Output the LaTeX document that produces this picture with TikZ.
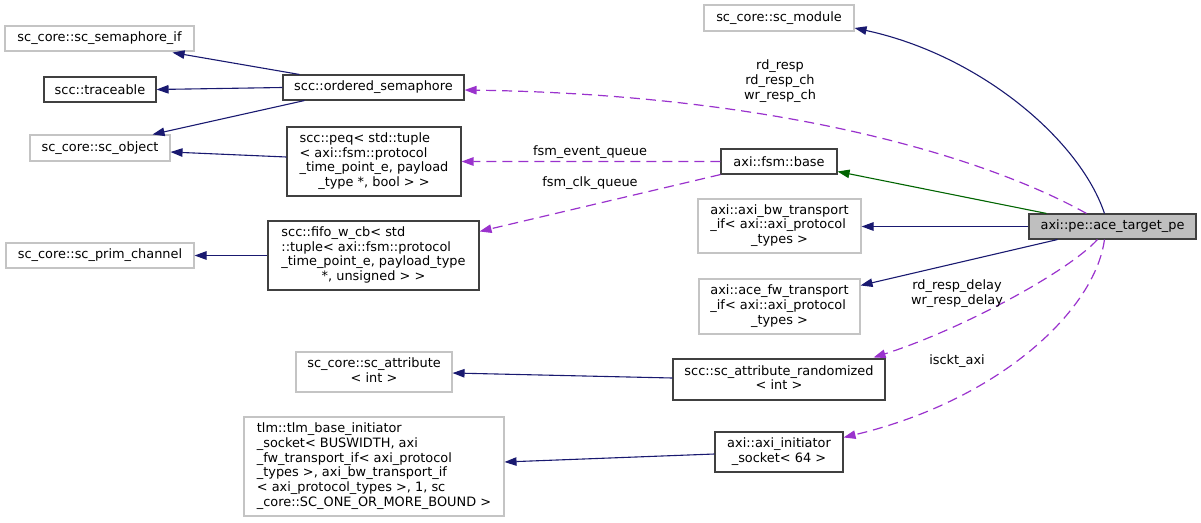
\documentclass[tikz,border=0pt]{standalone}
\usepackage{fontspec}
\setmainfont{DejaVu Sans}
\usetikzlibrary{arrows.meta,calc}
\definecolor{navy}{HTML}{191970}
\definecolor{purp}{HTML}{9A32CD}
\definecolor{dgreen}{HTML}{006400}
\definecolor{gborder}{HTML}{C4C4C4}
\definecolor{bborder}{HTML}{404040}
\definecolor{tfill}{HTML}{BFBFBF}
\newcommand{\dfont}{\fontsize{12.9}{14.9}\selectfont}
\newcommand{\ml}[2]{\begin{tabular}{@{}l@{}}#1\\\multicolumn{1}{@{}c@{}}{#2}\end{tabular}}
\begin{document}
\begin{tikzpicture}[x=1pt,y=-1pt,
  box/.style={line width=1.1pt, inner sep=0pt, font=\dfont, text=black},
  gbox/.style={box, draw=gborder},
  bbox/.style={box, draw=bborder},
  inh/.style={draw=navy, line width=1.1pt, -{Triangle[length=12pt,width=8.5pt,fill=navy]}},
  pub/.style={draw=dgreen, line width=1.1pt, -{Triangle[length=12pt,width=8.5pt,fill=dgreen]}},
  use/.style={draw=purp, color=purp, line width=1.2pt, dash pattern=on 10pt off 6pt, -{Triangle[length=12pt,width=8.5pt,fill=purp]}},
  lbl/.style={font=\dfont, align=center, inner sep=0pt, text=black}
]
\useasboundingbox (0,0) rectangle (1201,522);

% nodes
\node[gbox, minimum width=150pt, minimum height=26pt] (module) at (779,18) {sc\_core::sc\_module};
\node[gbox, minimum width=189pt, minimum height=25pt] (semif) at (99.5,38.5) {sc\_core::sc\_semaphore\_if};
\node[bbox, minimum width=112pt, minimum height=25pt] (traceable) at (100,89.5) {scc::traceable};
\node[bbox, minimum width=181pt, minimum height=25pt] (ordsem) at (373.5,87.5) {scc::ordered\_semaphore};
\node[gbox, minimum width=140pt, minimum height=26pt] (object) at (100,148) {sc\_core::sc\_object};
\node[bbox, minimum width=174pt, minimum height=69pt] (peq) at (374,161.5)
  {\ml{scc::peq< std::tuple\\< axi::fsm::protocol\\\_time\_point\_e, payload}{\_type *, bool > >}};
\node[gbox, minimum width=188pt, minimum height=25pt] (prim) at (100,255.5) {sc\_core::sc\_prim\_channel};
\node[bbox, minimum width=211pt, minimum height=69pt] (fifo) at (373.5,255.5)
  {\ml{scc::fifo\_w\_cb< std\\::tuple< axi::fsm::protocol\\\_time\_point\_e, payload\_type}{*, unsigned > >}};
\node[gbox, minimum width=156pt, minimum height=40pt] (attr) at (374,372)
  {\ml{sc\_core::sc\_attribute}{< int >}};
\node[gbox, minimum width=260pt, minimum height=99pt] (tlm) at (374,466.5)
  {\ml{tlm::tlm\_base\_initiator\\\_socket< BUSWIDTH, axi\\\_fw\_transport\_if< axi\_protocol\\\_types >, axi\_bw\_transport\_if\\< axi\_protocol\_types >, 1, sc}{\_core::SC\_ONE\_OR\_MORE\_BOUND >}};
\node[bbox, minimum width=116pt, minimum height=25pt] (fsmbase) at (779,161.5) {axi::fsm::base};
\node[gbox, minimum width=163pt, minimum height=54pt] (bw) at (779.5,226)
  {\ml{axi::axi\_bw\_transport\\\_if< axi::axi\_protocol}{\_types >}};
\node[gbox, minimum width=161pt, minimum height=55pt] (acefw) at (779.5,306.5)
  {\ml{axi::ace\_fw\_transport\\\_if< axi::axi\_protocol}{\_types >}};
\node[bbox, minimum width=212pt, minimum height=41pt] (rand) at (779,379.5)
  {\ml{scc::sc\_attribute\_randomized}{< int >}};
\node[bbox, minimum width=128pt, minimum height=40pt] (socket) at (779,452)
  {\ml{axi::axi\_initiator}{\_socket< 64 >}};
\node[bbox, fill=tfill, minimum width=167pt, minimum height=25pt] (target) at (1112.5,226.5) {axi::pe::ace\_target\_pe};

% edges from target
\draw[inh] ($(target.north west)+(76,0)$) .. controls (1080,140) and (980,55) .. ($(module.east)+(0,10)$);
\draw[pub] ($(target.north west)+(18,0)$) -- ($(fsmbase.east)+(0,10)$);
\draw[inh] (target.west) -- (bw.east |- target.west);
\draw[inh] ($(target.south west)+(29,0)$) -- ($(acefw.north east)+(0,7)$);
\draw[use] ($(target.north west)+(58,0)$) .. controls (1000,165) and (800,95) .. ($(ordsem.east)+(0,2.5)$);
\draw[use] ($(target.south west)+(69,0)$) .. controls (1068,272) and (960,330) .. ($(rand.north east)+(-12,-1)$);
\draw[use] ($(target.south west)+(76,0)$) .. controls (1095,310) and (1000,400) .. ($(socket.north east)+(0,6)$);

% edges from fsm base
\draw[use] (fsmbase.west) .. controls (650,161.6) and (550,161.6) .. (peq.east);
\draw[use] (fsmbase.south west) -- ($(fifo.north east)+(0,11)$);

% left-side inheritance
\draw[inh] ($(ordsem.north west)+(17,0)$) -- ($(semif.south east)+(-22,1)$);
\draw[inh] (ordsem.west) -- (traceable.east);
\draw[inh] ($(ordsem.south west)+(22,0)$) -- ($(object.north east)+(-18,0)$);
\draw[inh] ($(peq.west)+(0,-4.5)$) -- ($(object.east)+(0,4)$);
\draw[inh] (fifo.west) -- (prim.east);
\draw[inh] ($(rand.west)+(0,-1.5)$) -- ($(attr.east)+(0,1)$);
\draw[inh] ($(socket.west)+(0,2)$) -- ($(tlm.east)+(0,-4.5)$);

% labels
\node[lbl] (l1) at (780,81) {rd\_resp\\rd\_resp\_ch\\wr\_resp\_ch};
\node[lbl] (l2) at (590,152) {fsm\_event\_queue};
\node[lbl] (l3) at (590,183) {fsm\_clk\_queue};
\node[lbl] (l4) at (957,294) {rd\_resp\_delay\\wr\_resp\_delay};
\node[lbl] (l5) at (957,361) {isckt\_axi};
\end{tikzpicture}
\end{document}
